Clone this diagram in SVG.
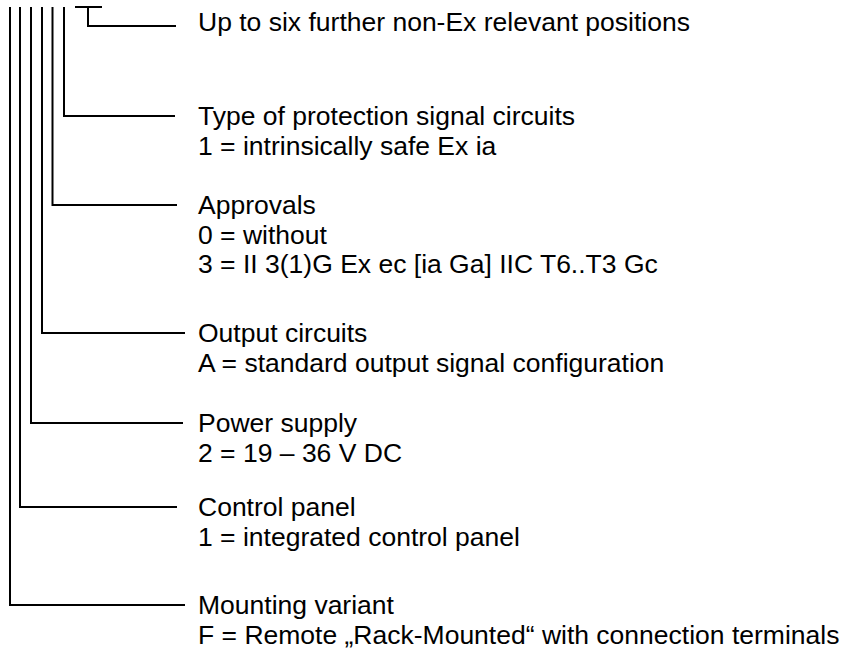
<svg xmlns="http://www.w3.org/2000/svg" width="845" height="657" viewBox="0 0 845 657">
<style>
.c{fill:none;stroke:#000;stroke-width:2;stroke-linecap:butt;stroke-linejoin:miter}
.t{font-family:"Liberation Sans",Arial,sans-serif;font-size:26.5px;fill:#000}
</style>
<rect width="845" height="657" fill="#fff"/>
<g id="connectors">
<path class="c" d="M75 7H102M88 7V26H176"/>
<path class="c" d="M64 7V116H175"/>
<path class="c" d="M52.5 7V205H177"/>
<path class="c" d="M42 7V333H185"/>
<path class="c" d="M31 7V423H183"/>
<path class="c" d="M20 7V507H177"/>
<path class="c" d="M10 7V605H185"/>
</g>
<g id="node-further"><text class="t" x="198" y="31">Up to six further non-Ex relevant positions</text></g>
<g id="node-protection"><text class="t" x="198" y="125">Type of protection signal circuits</text><text class="t" x="198" y="155">1 = intrinsically safe Ex ia</text></g>
<g id="node-approvals"><text class="t" x="198" y="214">Approvals</text><text class="t" x="198" y="244">0 = without</text><text class="t" x="198" y="273">3 = II 3(1)G Ex ec [ia Ga] IIC T6..T3 Gc</text></g>
<g id="node-output"><text class="t" x="198" y="342">Output circuits</text><text class="t" x="198" y="372">A = standard output signal configuration</text></g>
<g id="node-power"><text class="t" x="198" y="432">Power supply</text><text class="t" x="198" y="462">2 = 19 – 36 V DC</text></g>
<g id="node-control"><text class="t" x="198" y="516">Control panel</text><text class="t" x="198" y="546">1 = integrated control panel</text></g>
<g id="node-mounting"><text class="t" x="198" y="614">Mounting variant</text><text class="t" x="198" y="644">F = Remote „Rack-Mounted“ with connection terminals</text></g>
</svg>
